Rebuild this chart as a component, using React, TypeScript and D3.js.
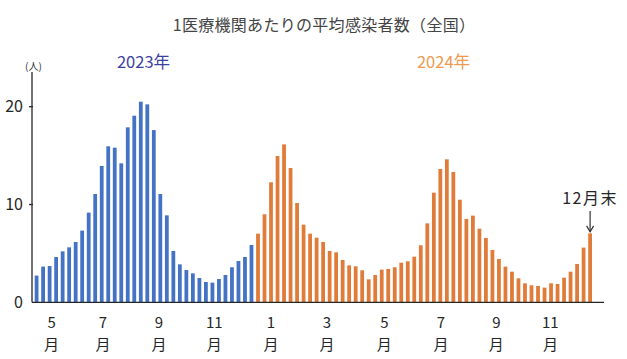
import React from "react";
import * as d3 from "d3";

const W = 627;
const H = 359;

// 2023 weeks 19–52
const values2023 = [2.73, 3.65, 3.71, 4.63, 5.21, 5.62, 6.17, 7.33, 9.17, 11.07, 13.94, 15.95, 15.81, 14.21, 17.89, 19.08, 20.51, 20.24, 17.61, 11.07, 8.89, 5.25, 3.88, 3.30, 2.96, 2.49, 2.08, 2.01, 2.38, 2.79, 3.58, 4.22, 4.63, 5.86];
// 2024 weeks 1–52
const values2024 = [7.02, 9.0, 12.27, 14.96, 16.15, 13.73, 10.15, 7.94, 7.02, 6.61, 6.17, 5.25, 5.11, 4.33, 3.78, 3.68, 3.27, 2.35, 2.79, 3.34, 3.41, 3.58, 4.05, 4.19, 4.67, 5.83, 8.07, 11.21, 13.63, 14.62, 13.32, 10.49, 8.52, 8.86, 7.53, 6.58, 5.35, 4.43, 3.65, 3.13, 2.45, 1.94, 1.74, 1.67, 1.50, 1.94, 1.87, 2.52, 3.13, 3.92, 5.59, 7.05];

const monthLabels = ["5", "7", "9", "11", "1", "3", "5", "7", "9", "11"];
// position of each month label, in weeks counted from the first bar
const monthLabelWeek = [2.3, 10.2, 18.8, 27.3, 36, 44.6, 53.4, 62.1, 70.6, 78.9];
const yTicks = [0, 10, 20];

const title = "1医療機関あたりの平均感染者数（全国）";
const font = "'Noto Sans CJK JP', 'Noto Sans', sans-serif";

export default function App() {
  const data = [
    ...values2023.map((v) => ({ v, year: 2023 })),
    ...values2024.map((v) => ({ v, year: 2024 })),
  ];
  const x = d3
    .scaleBand<number>()
    .domain(data.map((_, i) => i))
    .range([33.4, 593.3])
    .paddingInner(0.42)
    .paddingOuter(0.2);
  const step = x.step();
  const bw = x.bandwidth();
  const xl = (idx: number) => (x(0) as number) + idx * step + bw / 2;
  const y = d3.scaleLinear().domain([0, 20]).range([302.3, 106.7]);

  const axisX = 32;
  const last = data.length - 1;
  const lastX = (x(last) as number) + bw / 2;
  const lastTop = y(data[last].v);

  return (
    <svg width={W} height={H} style={{ position: "absolute", left: 0, top: 0, background: "#fff" }} fontFamily={font}>
      <rect width={W} height={H} fill="#fff" />
      <text x={324} y={31} textAnchor="middle" fontSize={16} fill="#444" letterSpacing={0.3}>{title}</text>
      <text x={143.5} y={68} textAnchor="middle" fontSize={16.5} fill="#3b3f9e">2023年</text>
      <text x={443.5} y={68} textAnchor="middle" fontSize={16.5} fill="#ee9a50">2024年</text>
      <text x={33.5} y={70} textAnchor="middle" fontSize={10} fill="#333">(人)</text>

      {data.map((d, i) => (
        <rect
          key={i}
          x={x(i)}
          y={y(d.v)}
          width={bw}
          height={y(0) - y(d.v)}
          fill={d.year === 2023 ? "#4472C4" : "#E07B39"}
        />
      ))}

      <line x1={axisX} x2={axisX} y1={72} y2={y(0)} stroke="#262626" strokeWidth={1.3} />
      <line x1={axisX} x2={604} y1={y(0)} y2={y(0)} stroke="#262626" strokeWidth={1.3} />
      {yTicks.map((t) => (
        <g key={t}>
          {t > 0 && <line x1={axisX - 3} x2={axisX + 1} y1={y(t)} y2={y(t)} stroke="#262626" strokeWidth={1.3} />}
          <text x={23} y={y(t) + 5.5} textAnchor="end" fontSize={16} fill="#262626">{t}</text>
        </g>
      ))}

      {monthLabels.map((m, i) => (
        <g key={i} fontSize={15} fill="#262626" textAnchor="middle">
          <text x={xl(monthLabelWeek[i])} y={327.5}>{m}</text>
          <text x={xl(monthLabelWeek[i])} y={349.5}>月</text>
        </g>
      ))}

      <text x={lastX} y={204} textAnchor="middle" fontSize={16} fill="#262626" letterSpacing={1.5}>12月末</text>
      <line x1={lastX} x2={lastX} y1={211} y2={lastTop - 1.5} stroke="#333" strokeWidth={1.2} />
      <path
        d={`M${lastX - 3.5},${lastTop - 7.5} L${lastX},${lastTop - 1.5} L${lastX + 3.5},${lastTop - 7.5}`}
        fill="none"
        stroke="#333"
        strokeWidth={1.2}
      />
    </svg>
  );
}
